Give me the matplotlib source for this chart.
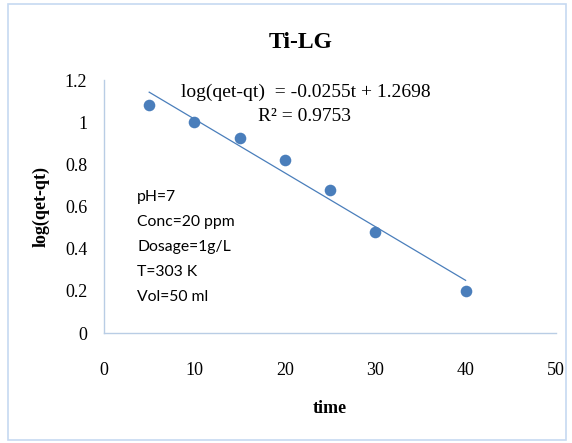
import numpy as np
import matplotlib
matplotlib.use("Agg")
import matplotlib.pyplot as plt
from matplotlib.patches import Rectangle

# data
time = [5, 10, 15, 20, 25, 30, 40]
log_q = [1.08, 1.0, 0.925, 0.82, 0.68, 0.48, 0.2]
slope = -0.0255
intercept = 1.2698
r2 = 0.9753
conditions = ["pH=7", "Conc=20 ppm", "Dosage=1g/L", "T=303 K", "Vol=50 ml"]

serif = "Liberation Serif"
blue = "#4a7ebb"
axis_col = "#b9cde5"

fig = plt.figure(figsize=(5.72, 4.43), dpi=100)
ax = fig.add_axes([0.1818, 0.2483, 0.7902, 0.5711])

# outer chart border
fig.patches.append(Rectangle((8 / 572, 3 / 443), 558 / 572, 436 / 443,
                             transform=fig.transFigure, fill=False,
                             edgecolor="#c6d9f1", lw=1.2))

ax.scatter(time, log_q, s=70, color=blue, zorder=3, linewidths=0)
xt = np.array([min(time), max(time)])
ax.plot(xt, slope * xt + intercept, color=blue, lw=0.9)

ax.set_xlim(0, 50)
ax.set_ylim(0, 1.2)
ax.set_xticks(range(0, 51, 10))
ax.set_yticks(np.arange(0, 1.21, 0.2))
ax.set_yticklabels(["0", "0.2", "0.4", "0.6", "0.8", "1", "1.2"])
ax.tick_params(length=0, labelsize=13, pad=12)
ax.tick_params(axis="x", pad=21)
for lab in ax.get_xticklabels() + ax.get_yticklabels():
    lab.set_fontfamily(serif)
for side in ["top", "right"]:
    ax.spines[side].set_visible(False)
for side in ["left", "bottom"]:
    ax.spines[side].set_color(axis_col)
    ax.spines[side].set_linewidth(1.0)

fig.text(0.525, 0.905, "Ti-LG", ha="center", va="center",
         fontsize=17, fontweight="bold", family=serif)
ax.set_xlabel("time", fontsize=13, fontweight="bold", family=serif, labelpad=15)
ax.set_ylabel("log(qet-qt)", fontsize=13, fontweight="bold", family=serif, labelpad=11)

fig.text(0.535, 0.792, f"log(qet-qt)  = {slope}t + {intercept}",
         ha="center", va="center", fontsize=14, family=serif)
fig.text(0.533, 0.736, f"R² = {r2}", ha="center", va="center",
         fontsize=14, family=serif)

fig.text(0.24, 0.572, "\n".join(conditions), ha="left", va="top",
         fontsize=11.3, family="Lato", linespacing=2.0)

fig.savefig("out.png", dpi=100)
